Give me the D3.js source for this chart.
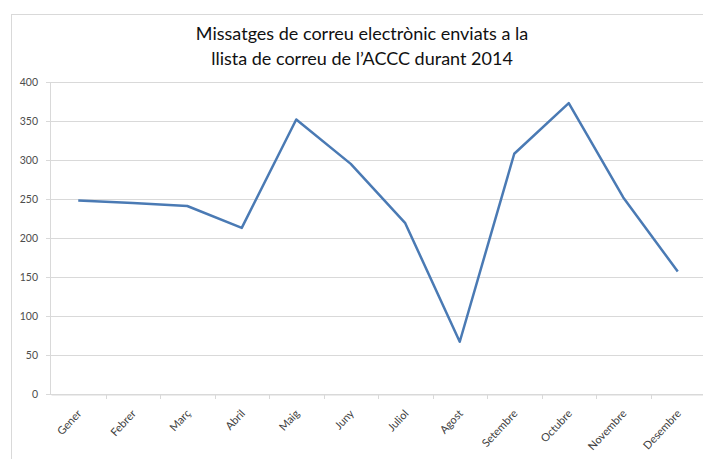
<!DOCTYPE html>
<html>
<head>
<meta charset="utf-8">
<script src="https://cdn.jsdelivr.net/npm/d3@7"></script>
<style>
  body { margin: 0; background: #fff; }
  text { font-family: Lato, "Open Sans", sans-serif; }
</style>
</head>
<body>
<div id="chart"></div>
<script>
// data
var months = ['Gener', 'Febrer', 'Març', 'Abril', 'Maig', 'Juny', 'Juliol',
    'Agost', 'Setembre', 'Octubre', 'Novembre', 'Desembre'];
var messages = [248, 245, 241, 213, 352, 295, 219, 67, 308, 373, 252, 157];
var yTicks = [0, 50, 100, 150, 200, 250, 300, 350, 400];
var titleLines = ['Missatges de correu electrònic enviats a la',
    'llista de correu de l\u2019ACCC durant 2014'];

var width = 703, height = 459;
var margin = { top: 82, right: -2, bottom: 65, left: 51 };

var svg = d3.select('#chart').append('svg')
    .attr('width', width)
    .attr('height', height);

// chart frame
svg.append('rect')
    .attr('x', 11.5).attr('y', 14.5)
    .attr('width', 720).attr('height', 480)
    .attr('fill', 'none')
    .attr('stroke', '#d9d9d9');

var x = d3.scaleBand()
    .domain(months)
    .range([margin.left, width - margin.right]);

var y = d3.scaleLinear()
    .domain([0, 400])
    .range([height - margin.bottom, margin.top]);

// gridlines
svg.append('g')
    .selectAll('line')
    .data(yTicks)
    .enter().append('line')
    .attr('x1', margin.left - 5)
    .attr('x2', width)
    .attr('y1', d => Math.round(y(d)) + 0.5)
    .attr('y2', d => Math.round(y(d)) + 0.5)
    .attr('stroke', '#d9d9d9');

// y axis line
svg.append('line')
    .attr('x1', margin.left - 0.5).attr('x2', margin.left - 0.5)
    .attr('y1', y(400)).attr('y2', y(0))
    .attr('stroke', '#d9d9d9');

// y labels
svg.append('g')
    .selectAll('text')
    .data(yTicks)
    .enter().append('text')
    .attr('x', 38)
    .attr('y', d => y(d))
    .attr('dy', '0.35em')
    .attr('text-anchor', 'end')
    .attr('font-size', 10.5)
    .attr('fill', '#4d4d4d')
    .text(d => d);

// x axis with category boundary ticks
var xAxis = d3.axisBottom(x).tickSize(0).tickFormat('');
var gx = svg.append('g')
    .attr('transform', 'translate(0,' + (Math.round(y(0)) + 0.5) + ')')
    .call(xAxis);
gx.select('.domain').attr('stroke', '#d9d9d9');

svg.append('g')
    .selectAll('line')
    .data(months.slice(1))
    .enter().append('line')
    .attr('x1', d => Math.round(x(d)) + 0.5)
    .attr('x2', d => Math.round(x(d)) + 0.5)
    .attr('y1', y(0))
    .attr('y2', y(0) + 5)
    .attr('stroke', '#d9d9d9');

// x labels, rotated
svg.append('g')
    .selectAll('text')
    .data(months)
    .enter().append('text')
    .attr('transform', d => 'translate(' + (x(d) + x.bandwidth() / 2 + 4) + ',' + (y(0) + 20) + ') rotate(-47)')
    .attr('text-anchor', 'end')
    .attr('font-size', 11)
    .attr('fill', '#404040')
    .text(d => d);

// the line
var line = d3.line()
    .x((d, i) => x(months[i]) + x.bandwidth() / 2)
    .y(d => y(d));

svg.append('path')
    .datum(messages)
    .attr('d', line)
    .attr('fill', 'none')
    .attr('stroke', '#4a7ab4')
    .attr('stroke-width', 2.5)
    .attr('stroke-linejoin', 'round');

// title
svg.append('g')
    .selectAll('text')
    .data(titleLines)
    .enter().append('text')
    .attr('x', 362)
    .attr('y', (d, i) => 40 + i * 24.5)
    .attr('text-anchor', 'middle')
    .attr('font-size', 18)
    .attr('fill', '#111')
    .text(d => d);
</script>
</body>
</html>
